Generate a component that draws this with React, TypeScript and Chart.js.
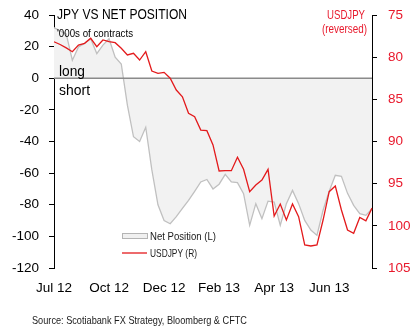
import React, { useEffect, useRef } from "react";
import { Chart, registerables } from "chart.js";

Chart.register(...registerables);

// ---- data ----
const xTickLabels = ["Jul 12", "Oct 12", "Dec 12", "Feb 13", "Apr 13", "Jun 13"];
const TICK_EVERY = 9;

// Net speculative JPY position, '000s of contracts (weekly)
const netPosition = [
  32, 30, 28, 11.4, 19.8, 22, 25, 15.6, 21, 25,
  13.3, 9, -17, -37, -40, -31, -58, -80, -90, -92,
  -87.5, -82.3, -77.2, -71.5, -65.6, -64, -70, -67, -60.8, -65.6,
  -66, -73, -93, -79.3, -88.8, -77.7, -78.3, -93, -79.3, -70.9,
  -79.3, -89.9, -96, -99.4, -83.5, -71.5, -61.4, -62, -72.8, -80.4,
  -85.6, -86.7, -82.5,
];

// USDJPY (plotted on reversed right axis)
const usdjpy = [
  78.17, 78.5, 78.9, 79.35, 78.56, 78.36, 77.76, 78.76, 77.96, 78.17,
  78.28, 78.95, 79.74, 79.54, 80.34, 79.35, 81.64, 81.91, 81.8, 82.5,
  83.9, 84.7, 86.66, 87.06, 88.64, 88.72, 90.4, 93.5, 93.46, 93.46,
  91.87, 93.3, 95.95, 95.16, 94.57, 93.3, 98.83, 97.41, 99.31, 97.41,
  98.92, 102.27, 102.39, 102.27, 99.31, 95.95, 95.28, 98.12, 100.5, 100.89,
  99.0, 99.4, 97.9,
];

const weeks = netPosition.map((_, i) => String(i));

const FONT = "'Liberation Sans', Arial, sans-serif";
const RED_TEXT = "#e8192c";
const RED_LINE = "#e31a1c";

const overlayPlugin = {
  id: "overlay",
  afterDatasetDraw(chart: any, args: any) {
    if (args.index !== 0) return;
    const { ctx, chartArea } = chart;
    const y0 = chart.scales.y.getPixelForValue(0);
    ctx.save();
    ctx.strokeStyle = "#8a8a8a";
    ctx.lineWidth = 1.5;
    ctx.beginPath();
    ctx.moveTo(chartArea.left, y0);
    ctx.lineTo(chartArea.right, y0);
    ctx.stroke();
    ctx.restore();
  },
  afterDraw(chart: any) {
    const { ctx } = chart;
    ctx.save();
    ctx.textBaseline = "alphabetic";
    // title
    ctx.fillStyle = "#000";
    ctx.textAlign = "left";
    ctx.font = `15px ${FONT}`;
    ctx.fillText("JPY VS NET POSITION", 57, 19, 130);
    ctx.font = `11.5px ${FONT}`;
    ctx.fillText("'000s of contracts", 57, 37, 76);
    ctx.font = `14.5px ${FONT}`;
    ctx.fillText("long", 59, 76, 26);
    ctx.fillText("short", 59, 95, 31);
    // right axis title
    ctx.fillStyle = RED_TEXT;
    ctx.textAlign = "right";
    ctx.font = `12px ${FONT}`;
    ctx.fillText("USDJPY", 365, 18.5, 38);
    ctx.fillText("(reversed)", 367, 32.5, 45);
    // legend
    ctx.fillStyle = "#f0f0f0";
    ctx.fillRect(122.5, 233.5, 25, 5);
    ctx.strokeStyle = "#b4b4b4";
    ctx.lineWidth = 1;
    ctx.strokeRect(122.5, 233.5, 25, 5);
    ctx.strokeStyle = RED_LINE;
    ctx.lineWidth = 1.3;
    ctx.beginPath();
    ctx.moveTo(122, 253);
    ctx.lineTo(147, 253);
    ctx.stroke();
    ctx.fillStyle = "#1a1a1a";
    ctx.textAlign = "left";
    ctx.font = `11.5px ${FONT}`;
    ctx.fillText("Net Position (L)", 150, 240, 66);
    ctx.fillText("USDJPY (R)", 150, 257, 47);
    // source
    ctx.font = `11px ${FONT}`;
    ctx.fillText("Source: Scotiabank FX Strategy, Bloomberg & CFTC", 32, 323.5, 215);
    ctx.restore();
  },
};

const noScalePadding = (s: any, width: number) => {
  s.width = width;
  s.paddingTop = 0;
  s.paddingBottom = 0;
};

export default function App() {
  const ref = useRef<HTMLCanvasElement | null>(null);

  useEffect(() => {
    document.body.style.margin = "0";
    const canvas = ref.current;
    if (!canvas) return;
    const chart = new Chart(canvas, {
      type: "line",
      data: {
        labels: weeks,
        datasets: [
          {
            label: "Net Position (L)",
            data: netPosition,
            yAxisID: "y",
            fill: "origin",
            backgroundColor: "#f2f2f2",
            borderColor: "#c0c0c0",
            borderWidth: 1.3,
            pointRadius: 0,
            tension: 0,
            order: 2,
          },
          {
            label: "USDJPY (R)",
            data: usdjpy,
            yAxisID: "y1",
            fill: false,
            borderColor: RED_LINE,
            borderWidth: 1.3,
            pointRadius: 0,
            tension: 0,
            order: 1,
          },
        ],
      },
      options: {
        responsive: false,
        animation: false,
        devicePixelRatio: 1,
        layout: { padding: { top: 15, left: 0, right: 0, bottom: 0 } },
        plugins: {
          legend: { display: false },
          tooltip: { enabled: false },
          title: { display: false },
        },
        scales: {
          x: {
            type: "category",
            offset: false,
            grid: { display: false, drawTicks: false },
            border: { display: false },
            ticks: {
              autoSkip: false,
              maxRotation: 0,
              minRotation: 0,
              padding: 12,
              color: "#000",
              font: { family: FONT, size: 13.5 },
              callback: (_v: any, i: number) =>
                i % TICK_EVERY === 0 ? xTickLabels[i / TICK_EVERY] ?? "" : "",
            },
            afterFit: (s: any) => {
              s.height = 59;
              s.paddingLeft = 0;
              s.paddingRight = 0;
            },
          },
          y: {
            position: "left",
            min: -120,
            max: 40,
            grid: {
              drawOnChartArea: false,
              drawTicks: true,
              tickLength: 5,
              tickColor: "#000",
            },
            border: { display: true, color: "#000", width: 1 },
            ticks: {
              stepSize: 20,
              padding: 10,
              color: "#000",
              font: { family: FONT, size: 13.5 },
            },
            afterFit: (s: any) => noScalePadding(s, 54),
          },
          y1: {
            position: "right",
            reverse: true,
            min: 75,
            max: 105,
            grid: {
              drawOnChartArea: false,
              drawTicks: true,
              tickLength: 5,
              tickColor: "#000",
            },
            border: { display: true, color: "#000", width: 1 },
            ticks: {
              stepSize: 5,
              padding: 11,
              color: RED_TEXT,
              font: { family: FONT, size: 13.5 },
            },
            afterFit: (s: any) => noScalePadding(s, 47),
          },
        },
      },
      plugins: [overlayPlugin],
    });
    return () => chart.destroy();
  }, []);

  return (
    <canvas
      ref={ref}
      width={419}
      height={327}
      style={{ display: "block", width: 419, height: 327 }}
    />
  );
}
